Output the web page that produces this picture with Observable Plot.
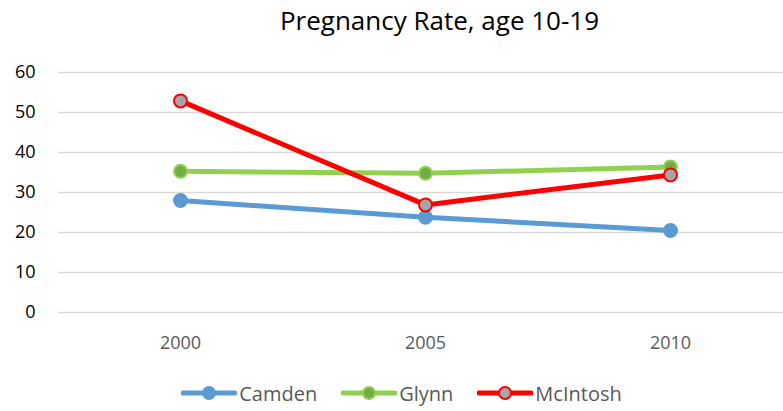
<!DOCTYPE html>
<html>
<head>
<meta charset="utf-8">
<script src="https://cdn.jsdelivr.net/npm/d3@7"></script>
<script src="https://cdn.jsdelivr.net/npm/@observablehq/plot@0.6"></script>
<style>
  body { margin: 0; background: #fff; font-family: "Open Sans", sans-serif; }
  #wrap { width: 783px; height: 411px; position: relative; overflow: hidden; }
  #title { height: 45px; line-height: 40px; font-size: 26px; color: #000; text-align: center; padding-left: 96px; box-sizing: border-box; }
  #legend { display: flex; justify-content: center; align-items: center; padding-left: 20px; padding-top: 10px; height: 46px; box-sizing: border-box; font-size: 20px; color: #595959; }
  .item { display: flex; align-items: center; margin: 0 12px; }
  .item svg { margin-right: 2px; }
  svg { display: block; }
</style>
</head>
<body>
<div id="wrap">
  <div id="title">Pregnancy Rate, age 10-19</div>
  <div id="chart"></div>
  <div id="legend"></div>
</div>
<script>
const years = ["2000", "2005", "2010"];
const seriesNames = ["Camden", "Glynn", "McIntosh"];
const camden = [28, 23.8, 20.5];
const glynn = [35.3, 34.8, 36.4];
const mcintosh = [52.9, 26.9, 34.4];
const yTicks = [0, 10, 20, 30, 40, 50, 60];

const lineColors = ["#5B9BD5", "#92D050", "#FF0000"];
const dotFills = ["#5B9BD5", "#70AD47", "#A6A6A6"];
const dotStrokes = ["#5B9BD5", "#92D050", "#FF0000"];

const values = [camden, glynn, mcintosh];
const rows = [];
seriesNames.forEach((s, i) => years.forEach((yr, j) => rows.push({series: s, year: yr, value: values[i][j]})));

const marks = [
  Plot.ruleY(yTicks, {stroke: "#D9D9D9", strokeWidth: 1.5}),
  Plot.axisY({ticks: yTicks, tickSize: 0, tickPadding: 23, fontSize: 18, label: null, color: "#000", fill: "#000"}),
  Plot.axisX({tickSize: 0, tickPadding: 24, fontSize: 18, label: null, fill: "#595959"})
];
seriesNames.forEach((s, i) => {
  const d = rows.filter(r => r.series === s);
  marks.push(Plot.lineY(d, {x: "year", y: "value", stroke: lineColors[i], strokeWidth: 5}));
  marks.push(Plot.dot(d, {x: "year", y: "value", r: 6.5, fill: dotFills[i], stroke: dotStrokes[i], strokeWidth: 2}));
});

const chart = Plot.plot({
  width: 783,
  height: 320,
  marginLeft: 58,
  marginRight: 0,
  marginTop: 27,
  marginBottom: 53,
  style: {fontFamily: "'Open Sans', sans-serif", background: "#fff"},
  x: {type: "point", domain: years, range: [180, 670], padding: 0},
  y: {domain: [0, 60]},
  marks
});
document.getElementById("chart").appendChild(chart);

const legend = document.getElementById("legend");
seriesNames.forEach((s, i) => {
  const item = document.createElement("div");
  item.className = "item";
  item.innerHTML = `<svg width="56" height="16"><line x1="2" x2="54" y1="8" y2="8" stroke="${lineColors[i]}" stroke-width="5" stroke-linecap="round"/><circle cx="28" cy="8" r="6" fill="${dotFills[i]}" stroke="${dotStrokes[i]}" stroke-width="2"/></svg><span>${s}</span>`;
  legend.appendChild(item);
});
</script>
</body>
</html>
